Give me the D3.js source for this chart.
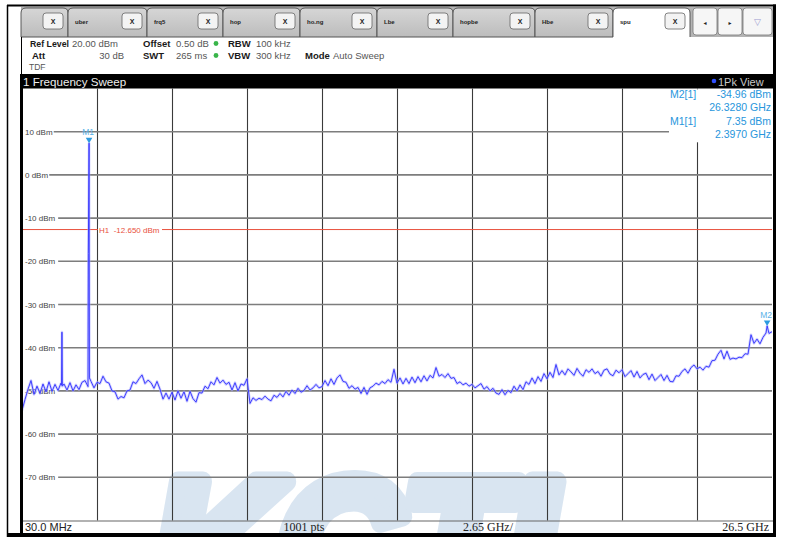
<!DOCTYPE html>
<html><head><meta charset="utf-8">
<script src="https://cdn.jsdelivr.net/npm/d3@7"></script>
<style>html,body{margin:0;padding:0;background:#fff;}svg{display:block}</style>
</head><body>
<svg id="c" width="787" height="537"></svg>
<script>
// ---------------- data ----------------
const sweepStartGHz = 0.03;
const sweepStopGHz = 26.5;
const refLevel = 20;
const bottomLevel = -80;
const levelTicks = [10, 0, -10, -20, -30, -40, -50, -60, -70];
const traceLevels = [
 -54.5,-52.0,-49.6,-47.6,-50.8,-48.9,-50.6,-48.4,-50.2,-47.9,
 -50.1,-48.5,-49.9,-48.2,-48.4,-49.8,-48.1,-50.0,-48.6,-49.7,
 -48.0,-47.6,-49.0,-47.8,-49.3,-48.0,-48.3,-46.6,-47.9,-48.2,
 -50.0,-50.2,-51.9,-51.3,-51.6,-50.0,-49.8,-47.9,-48.3,-47.2,
 -46.3,-48.3,-47.5,-48.1,-49.4,-47.8,-49.6,-51.9,-50.5,-51.9,
 -50.3,-52.1,-50.0,-51.7,-50.2,-52.4,-50.1,-51.8,-52.6,-50.4,
 -50.5,-48.9,-49.5,-47.9,-48.6,-46.9,-48.2,-47.5,-48.5,-48.0,
 -49.8,-48.1,-50.0,-48.4,-48.7,-47.2,-52.9,-51.6,-52.2,-51.7,
 -52.0,-51.2,-51.9,-52.3,-51.0,-51.5,-50.6,-51.4,-50.1,-51.0,
 -49.8,-50.6,-49.4,-50.3,-49.9,-48.8,-49.8,-49.3,-48.5,-49.3,
 -49.0,-47.6,-48.8,-47.2,-48.5,-47.0,-46.3,-47.8,-48.0,-49.4,
 -48.8,-49.6,-49.2,-50.6,-49.2,-50.8,-49.3,-48.9,-48.2,-48.6,
 -47.8,-48.3,-47.4,-48.0,-45.0,-48.2,-47.0,-48.4,-47.1,-48.3,
 -46.8,-48.1,-46.7,-47.9,-46.5,-47.7,-46.4,-47.0,-44.6,-46.6,
 -46.2,-46.9,-46.0,-47.1,-46.9,-48.3,-47.9,-48.6,-48.2,-48.9,
 -48.5,-49.3,-48.8,-48.3,-49.6,-49.0,-50.0,-49.4,-50.5,-50.8,
 -49.7,-50.9,-49.9,-50.4,-48.9,-50.0,-48.6,-49.7,-47.9,-48.5,
 -47.0,-48.3,-46.7,-47.8,-46.0,-47.2,-45.7,-46.9,-43.9,-46.3,
 -45.3,-46.3,-44.9,-45.6,-46.4,-44.8,-45.9,-46.6,-45.1,-45.7,
 -44.9,-46.0,-45.5,-46.6,-45.2,-44.9,-46.1,-46.5,-45.2,-45.8,
 -45.1,-46.7,-46.0,-45.3,-46.8,-45.5,-47.0,-46.2,-45.9,-47.4,
 -46.1,-47.6,-46.9,-46.2,-47.6,-46.4,-47.8,-47.9,-46.5,-46.6,
 -45.5,-44.9,-45.9,-44.6,-44.0,-44.9,-44.5,-45.2,-44.3,-44.5,
 -43.0,-42.9,-41.5,-40.6,-42.6,-40.8,-42.7,-42.4,-42.6,-42.2,
 -42.3,-41.4,-41.5,-37.0,-39.0,-38.0,-39.1,-37.6,-36.6,-36.7,-36.3
];
const spurFreqsGHz = [1.425, 1.44, 1.455, 2.371, 2.397, 2.41, 26.328];
const spurLevels   = [-48.7, -36.4, -48.9, -18.2, 7.35, -47.0, -34.96];
const h1Level = -12.65;
const h1Label = "H1  -12.650 dBm";
const markerNames = ["M1", "M2"];
const markerFreqsGHz = [2.397, 26.328];
const markerLevels = [7.35, -34.96];
const markerInfoRows = [["M2[1]", "-34.96 dBm"], ["", "26.3280 GHz"], ["M1[1]", "7.35 dBm"], ["", "2.3970 GHz"]];
const tabLabels = ["", "uber", "frq5", "hop", "ho.ng", "Lbe", "hopbe", "Hbe", "spu"];
const footerLabels = ["30.0 MHz", "1001 pts", "2.65 GHz/", "26.5 GHz"];
const titleLabel = "1 Frequency Sweep";
const viewLabel = "1Pk View";
const watermarkText = "KCTL";

// ---------------- drawing ----------------
const W = 787, H = 537;
const svg = d3.select("#c");
const SANS = "'Liberation Sans', Arial, sans-serif";
const SERIF = "'Liberation Serif', 'DejaVu Serif', serif";
svg.append("rect").attr("width", W).attr("height", H).attr("fill", "#fff");

const PL = 22, PR = 772, PT = 88.5, PB = 520.5;
const x = d3.scaleLinear().domain([sweepStartGHz, sweepStopGHz]).range([PL, PR]);
const y = d3.scaleLinear().domain([bottomLevel, refLevel]).range([PB, PT]);

// ---- tab bar ----
const tabG = svg.append("g");
tabG.append("rect").attr("x", 21).attr("y", 7).attr("width", 752).attr("height", 30).attr("fill", "#b4b4b4");
const tabEdges = [21, 68, 147, 223, 300, 377, 453, 535, 613, 690];
const grad = svg.append("defs").append("linearGradient").attr("id", "tabg").attr("x1", 0).attr("x2", 0).attr("y1", 0).attr("y2", 1);
grad.append("stop").attr("offset", 0).attr("stop-color", "#d6d6d6");
grad.append("stop").attr("offset", 1).attr("stop-color", "#bcbcbc");
tabLabels.forEach((lab, i) => {
  const s = tabEdges[i], e = tabEdges[i + 1], active = i === tabLabels.length - 1;
  const p = d3.path();
  p.moveTo(s, 37); p.lineTo(s, 13); p.quadraticCurveTo(s, 8, s + 5, 8);
  p.lineTo(e - 5, 8); p.quadraticCurveTo(e, 8, e, 13); p.lineTo(e, 37);
  tabG.append("path").attr("d", p.toString()).attr("fill", active ? "#fff" : "url(#tabg)")
    .attr("stroke", "#4a4a4a").attr("stroke-width", 0.9);
  if (lab) tabG.append("text").attr("x", s + 7).attr("y", 24).text(lab)
    .attr("font-family", SANS).attr("font-size", 6).attr("font-weight", "bold").attr("fill", "#222");
  const bx = e - 25;
  tabG.append("rect").attr("x", bx).attr("y", 13).attr("width", 20).attr("height", 16).attr("rx", 3)
    .attr("fill", "#f3f3f3").attr("stroke", "#666").attr("stroke-width", 0.8);
  tabG.append("text").attr("x", bx + 10).attr("y", 23.5).attr("text-anchor", "middle").text("X")
    .attr("font-family", SANS).attr("font-size", 7).attr("font-weight", "bold").attr("fill", "#222");
});
tabG.append("line").attr("x1", 21).attr("x2", 613).attr("y1", 37).attr("y2", 37).attr("stroke", "#555");
const navX = [[693, 717, "◂", "#222"], [718, 742, "▸", "#222"], [743, 772, "▽", "#9a9ad0"]];
navX.forEach(([a, b, g, c]) => {
  tabG.append("rect").attr("x", a).attr("y", 8).attr("width", b - a).attr("height", 27).attr("rx", 3)
    .attr("fill", "#f6f6f6").attr("stroke", "#777").attr("stroke-width", 0.8);
  tabG.append("text").attr("x", (a + b) / 2).attr("y", 25).attr("text-anchor", "middle").text(g)
    .attr("font-family", "DejaVu Sans").attr("font-size", g === "▽" ? 9 : 6).attr("fill", c);
});

// ---- settings text ----
const info = svg.append("g").attr("font-family", SANS);
const bold = (t, px, py, tl) => {
  const el = info.append("text").attr("x", px).attr("y", py).text(t).attr("font-size", 9.5).attr("font-weight", "bold").attr("fill", "#1a1a1a");
  if (tl) el.attr("textLength", tl).attr("lengthAdjust", "spacingAndGlyphs");
};
const norm = (t, px, py, anchor) => info.append("text").attr("x", px).attr("y", py).text(t).attr("font-size", 9.5).attr("fill", "#555").attr("text-anchor", anchor || "start");
bold("Ref Level", 30, 47, 39); norm("20.00 dBm", 72, 47);
bold("Offset", 143, 47); norm("0.50 dB", 176, 47);
bold("RBW", 228, 47); norm("100 kHz", 256, 47);
bold("Att", 32, 59); norm("30 dB", 124, 59, "end");
bold("SWT", 143, 59); norm("265 ms", 176, 59);
bold("VBW", 228, 59); norm("300 kHz", 256, 59);
bold("Mode", 305, 59); norm("Auto Sweep", 333, 59);
info.append("text").attr("x", 29).attr("y", 70).text("TDF").attr("font-size", 8.5).attr("fill", "#555");
[44, 56].forEach(cy => info.append("circle").attr("cx", 216).attr("cy", cy - 0.5).attr("r", 2.4).attr("fill", "#39b54a"));

// ---- title bar ----
svg.append("rect").attr("x", 21).attr("y", 74).attr("width", 753).attr("height", 14.5).attr("fill", "#000");
svg.append("text").attr("x", 23).attr("y", 85.5).text(titleLabel).attr("font-family", SANS)
  .attr("font-size", 11.6).attr("fill", "#eee");
svg.append("circle").attr("cx", 714).attr("cy", 81).attr("r", 2.3).attr("fill", "#3050ff");
svg.append("text").attr("x", 718).attr("y", 85.5).text(viewLabel).attr("font-family", SANS)
  .attr("font-size", 11).attr("fill", "#c8c8c8");

// ---- watermark ----
svg.append("defs").append("clipPath").attr("id", "wmclip").append("rect")
  .attr("x", 23).attr("y", 89).attr("width", 750).attr("height", 444);
svg.append("text").attr("clip-path", "url(#wmclip)")
  .attr("x", 152).attr("y", 612).text(watermarkText)
  .attr("font-family", SANS).attr("font-weight", "bold").attr("font-style", "italic")
  .attr("font-size", 190).attr("textLength", 460).attr("lengthAdjust", "spacingAndGlyphs")
  .attr("fill", "#d9e5f1").attr("stroke", "#d9e5f1").attr("stroke-width", 20).attr("stroke-linejoin", "round");

// ---- grid ----
const grid = svg.append("g");
const vDiv = d3.range(1, 10).map(k => sweepStartGHz + k * (sweepStopGHz - sweepStartGHz) / 10);
grid.selectAll(".v").data(vDiv).join("line")
  .attr("x1", d => Math.round(x(d)) + 0.5).attr("x2", d => Math.round(x(d)) + 0.5)
  .attr("y1", PT).attr("y2", PB).attr("stroke", "#3a3a3a").attr("stroke-width", 1.1);
grid.selectAll(".h").data(levelTicks).join("line")
  .attr("x1", PL).attr("x2", PR).attr("y1", d => y(d)).attr("y2", d => y(d))
  .attr("stroke", "#7d7d7d").attr("stroke-width", 1.6);
grid.append("line").attr("x1", PL).attr("x2", PR + 1).attr("y1", PB + 0.5).attr("y2", PB + 0.5)
  .attr("stroke", "#666").attr("stroke-width", 1.2);

// y labels (with white backing)
const yl = svg.append("g").attr("font-family", SANS).attr("font-size", 8).attr("fill", "#444");
levelTicks.forEach(v => {
  const t = v + " dBm";
  const wd = t.length * 4.45 + 1;
  yl.append("rect").attr("x", PL + 1).attr("y", y(v) - 5).attr("width", wd + 3).attr("height", 9).attr("fill", "#fff");
  yl.append("text").attr("x", PL + 3).attr("y", y(v) + 3).text(t);
});

// H1 line
svg.append("line").attr("x1", PL).attr("x2", PR).attr("y1", y(h1Level)).attr("y2", y(h1Level))
  .attr("stroke", "#e8503c").attr("stroke-width", 1);
svg.append("rect").attr("x", 98).attr("y", y(h1Level) - 5).attr("width", 64).attr("height", 9.5).attr("fill", "#fff");
svg.append("text").attr("x", 99).attr("y", y(h1Level) + 3).text(h1Label)
  .attr("font-family", SANS).attr("font-size", 8).attr("fill", "#e8503c").style("white-space", "pre");

// ---- trace ----
const step = (sweepStopGHz - sweepStartGHz) / (traceLevels.length - 1);
const pts = traceLevels.map((v, i) => [sweepStartGHz + i * step, v])
  .concat(spurFreqsGHz.map((f, i) => [f, spurLevels[i]]))
  .sort((a, b) => a[0] - b[0]);
svg.append("defs").append("clipPath").attr("id", "pclip").append("rect")
  .attr("x", PL).attr("y", PT).attr("width", PR - PL).attr("height", PB - PT);
const lineGen = d3.line().x(d => x(d[0])).y(d => y(d[1]));
svg.append("path").attr("clip-path", "url(#pclip)").attr("d", lineGen(pts))
  .attr("fill", "none").attr("stroke", "#a9a9ff").attr("stroke-width", 2.6).attr("stroke-opacity", 0.55)
  .attr("stroke-linejoin", "round");
svg.append("path").attr("clip-path", "url(#pclip)").attr("d", lineGen(pts))
  .attr("fill", "none").attr("stroke", "#3838ff").attr("stroke-width", 1).attr("stroke-opacity", 0.95)
  .attr("stroke-linejoin", "round");

// ---- markers ----
markerNames.forEach((m, i) => {
  const mx = x(markerFreqsGHz[i]), my = y(markerLevels[i]);
  svg.append("path").attr("d", `M${mx - 3.3},${my - 5.5}L${mx + 3.3},${my - 5.5}L${mx},${my}Z`).attr("fill", "#2c9be0");
  svg.append("text").attr("clip-path", "url(#pclip)").attr("x", mx - 1).attr("y", my - 8).attr("text-anchor", "middle").text(m)
    .attr("font-family", SANS).attr("font-size", 8.5).attr("fill", "#5ab2e8");
});

// ---- marker info box ----
svg.append("rect").attr("x", 669).attr("y", PT + 0.8).attr("width", PR - 669).attr("height", 53).attr("fill", "#fff");
const mi = svg.append("g").attr("font-family", SANS).attr("font-size", 10.5).attr("fill", "#2896dc");
markerInfoRows.forEach((r, i) => {
  const by = 98 + i * 13.4;
  if (r[0]) mi.append("text").attr("x", 670).attr("y", by).text(r[0]);
  mi.append("text").attr("x", 771).attr("y", by).attr("text-anchor", "end").text(r[1]);
});

// ---- footer ----
const ft = svg.append("g").attr("font-size", 11).attr("fill", "#222");
ft.append("text").attr("x", 25).attr("y", 531).text(footerLabels[0]).attr("font-family", SANS);
ft.append("text").attr("x", 304).attr("y", 531).attr("text-anchor", "middle").text(footerLabels[1]).attr("font-family", SERIF).attr("font-size", 12);
ft.append("text").attr("x", 488).attr("y", 531).attr("text-anchor", "middle").text(footerLabels[2]).attr("font-family", SERIF).attr("font-size", 12);
ft.append("text").attr("x", 769).attr("y", 531).attr("text-anchor", "end").text(footerLabels[3]).attr("font-family", SERIF).attr("font-size", 12);

// ---- frame ----
svg.append("rect").attr("x", 20).attr("y", 74).attr("width", 3).attr("height", 460).attr("fill", "#000");
svg.append("line").attr("x1", 21.5).attr("x2", 21.5).attr("y1", 37).attr("y2", 74).attr("stroke", "#000");
svg.append("rect").attr("x", 7).attr("y", 533).attr("width", 769).attr("height", 4).attr("fill", "#000");
svg.append("rect").attr("x", 773).attr("y", 4.5).attr("width", 3).attr("height", 533).attr("fill", "#000");
svg.append("line").attr("x1", 7).attr("x2", 776).attr("y1", 5.5).attr("y2", 5.5).attr("stroke", "#000").attr("stroke-width", 2);
svg.append("line").attr("x1", 7.5).attr("x2", 7.5).attr("y1", 5).attr("y2", 537).attr("stroke", "#000").attr("stroke-width", 1.5);
</script>
</body></html>
